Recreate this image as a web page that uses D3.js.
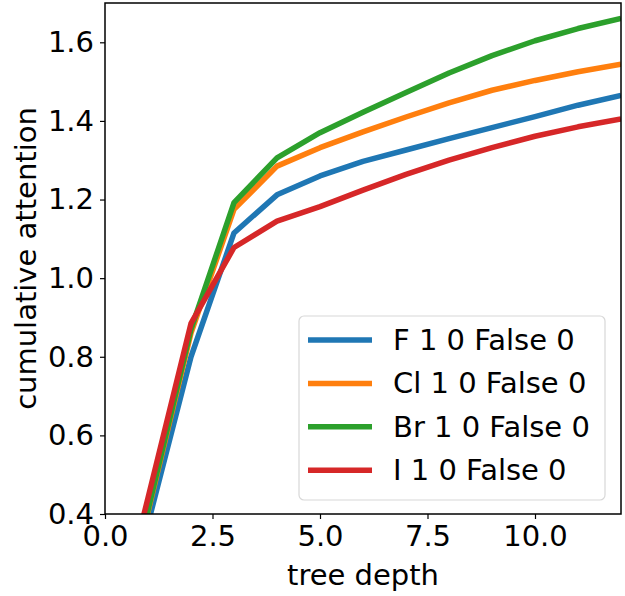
<!DOCTYPE html>
<html>
<head>
<meta charset="utf-8">
<script src="https://cdn.jsdelivr.net/npm/d3@7"></script>
<style>
  html, body { margin: 0; padding: 0; background: #fff; }
  svg { display: block; }
  text { font-family: "DejaVu Sans", sans-serif; fill: #000; }
</style>
</head>
<body>
<svg id="chart" width="625" height="596"></svg>
<script>
// ---- data ----
const depths = [0, 1, 2, 3, 4, 5, 6, 7, 8, 9, 10, 11, 12];
const seriesNames = ["F 1 0 False 0", "Cl 1 0 False 0", "Br 1 0 False 0", "I 1 0 False 0"];
const seriesColors = ["#1f77b4", "#ff7f0e", "#2ca02c", "#d62728"];
const valuesF  = [0.00, 0.375, 0.800, 1.115, 1.212, 1.260, 1.297, 1.326, 1.355, 1.383, 1.411, 1.440, 1.465];
const valuesCl = [0.00, 0.405, 0.860, 1.175, 1.285, 1.332, 1.372, 1.410, 1.446, 1.478, 1.503, 1.525, 1.544];
const valuesBr = [0.00, 0.410, 0.870, 1.192, 1.306, 1.370, 1.422, 1.472, 1.522, 1.566, 1.604, 1.635, 1.661];
const valuesI  = [0.00, 0.441, 0.885, 1.078, 1.145, 1.182, 1.224, 1.264, 1.300, 1.332, 1.361, 1.385, 1.405];
const xTicks = [0, 2.5, 5, 7.5, 10];
const yTicks = [0.4, 0.6, 0.8, 1.0, 1.2, 1.4, 1.6];
const xLabel = "tree depth";
const yLabel = "cumulative attention";

const allValues = [valuesF, valuesCl, valuesBr, valuesI];

// ---- layout ----
const svg = d3.select("#chart");
const pL = 105, pR = 621, pT = 3, pB = 514;
const fontSize = 29;

const x = d3.scaleLinear().domain([0, 12]).range([pL, pR]);
const y = d3.scaleLinear().domain([0.4, 1.7]).range([pB, pT]);

svg.append("defs").append("clipPath").attr("id", "plotclip")
  .append("rect").attr("x", pL).attr("y", pT).attr("width", pR - pL).attr("height", pB - pT);

// lines
const line = d3.line().x((d, i) => x(depths[i])).y(d => y(d));
const g = svg.append("g").attr("clip-path", "url(#plotclip)");
allValues.forEach((vals, k) => {
  g.append("path")
    .attr("d", line(vals))
    .attr("fill", "none")
    .attr("stroke", seriesColors[k])
    .attr("stroke-width", 5.5)
    .attr("stroke-linejoin", "round")
    .attr("stroke-linecap", "butt");
});

// axes
const xAxis = d3.axisBottom(x).tickValues(xTicks).tickFormat(d3.format(".1f")).tickSize(5).tickPadding(6);
const yAxis = d3.axisLeft(y).tickValues(yTicks).tickFormat(d3.format(".1f")).tickSize(5).tickPadding(6);

const gx = svg.append("g").attr("transform", `translate(0,${pB})`).call(xAxis);
const gy = svg.append("g").attr("transform", `translate(${pL},0)`).call(yAxis);
[gx, gy].forEach(ax => {
  ax.select(".domain").remove();
  ax.selectAll(".tick line").attr("stroke", "#000").attr("stroke-width", 1.2);
  ax.selectAll(".tick text").style("font-size", fontSize + "px").style("font-family", "DejaVu Sans").attr("fill", "#000");
});

// frame
svg.append("rect")
  .attr("x", pL).attr("y", pT).attr("width", pR - pL).attr("height", pB - pT)
  .attr("fill", "none").attr("stroke", "#000").attr("stroke-width", 1.5);

// axis labels
svg.append("text")
  .attr("x", (pL + pR) / 2).attr("y", 585)
  .attr("text-anchor", "middle")
  .style("font-size", fontSize + "px")
  .text(xLabel);
svg.append("text")
  .attr("transform", `translate(26,${(pT + pB) / 2}) rotate(-90)`)
  .attr("text-anchor", "middle")
  .attr("dominant-baseline", "central")
  .style("font-size", fontSize + "px")
  .text(yLabel);

// legend
const lg = svg.append("g");
lg.append("rect")
  .attr("x", 299).attr("y", 316).attr("width", 306).attr("height", 184)
  .attr("rx", 5).attr("ry", 5)
  .attr("fill", "#fff").attr("fill-opacity", 0.8)
  .attr("stroke", "#d8d8d8").attr("stroke-width", 1.2);
seriesNames.forEach((name, k) => {
  const cy = 340 + k * 43.4;
  lg.append("line")
    .attr("x1", 308).attr("x2", 372).attr("y1", cy).attr("y2", cy)
    .attr("stroke", seriesColors[k]).attr("stroke-width", 5.5);
  lg.append("text")
    .attr("x", 393).attr("y", cy)
    .attr("dominant-baseline", "central")
    .style("font-size", fontSize + "px")
    .text(name);
});
</script>
</body>
</html>
